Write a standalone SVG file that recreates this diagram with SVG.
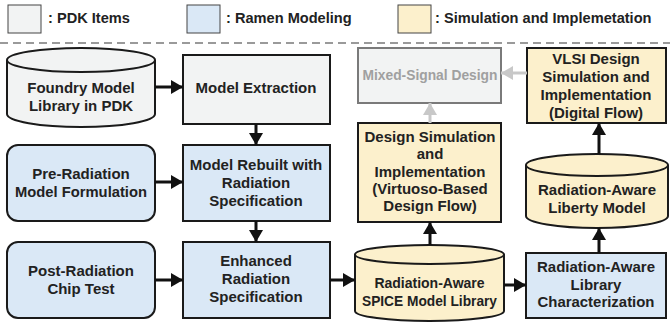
<svg xmlns="http://www.w3.org/2000/svg" width="670" height="323" viewBox="0 0 670 323">
<defs>
<style>
text{font-family:"Liberation Sans",Arial,sans-serif;font-weight:bold;font-size:15px;fill:#222;text-anchor:middle}
.lg{text-anchor:start;font-size:14.6px}
.sm{font-size:14px}
.gray{fill:#f2f3f3;stroke:#1a1a1a;stroke-width:2}
.blue{fill:#dae8f6;stroke:#1a1a1a;stroke-width:2}
.yel{fill:#fcf0cc;stroke:#1a1a1a;stroke-width:2}
.legbox{stroke:#444;stroke-width:1}
.c{fill:none;stroke:#111;stroke-width:3}
.cg{fill:none;stroke:#c8c8c8;stroke-width:3}
.dim{fill:#a0a0a0}
</style>
<marker id="ah" markerUnits="userSpaceOnUse" markerWidth="12" markerHeight="14" refX="12" refY="7" orient="auto"><path d="M0,0 L12,7 L0,14 Z" fill="#111"/></marker>
<marker id="ahg" markerUnits="userSpaceOnUse" markerWidth="12" markerHeight="14" refX="12" refY="7" orient="auto"><path d="M0,0 L12,7 L0,14 Z" fill="#c8c8c8"/></marker>
</defs>
<rect width="670" height="323" fill="#fff"/>
<g id="legend">
<rect class="legbox" x="8" y="5" width="33" height="28" fill="#f2f3f3"/>
<text class="lg" x="48" y="23">: PDK Items</text>
<rect class="legbox" x="187" y="5" width="33" height="28" fill="#dae8f6"/>
<text class="lg" x="226" y="23">: Ramen Modeling</text>
<rect class="legbox" x="398" y="5" width="33" height="28" fill="#fcf0cc"/>
<text class="lg" x="435" y="23">: Simulation and Implemetation</text>
<line x1="0" y1="43" x2="670" y2="43" stroke="#9a9a9a" stroke-width="2" stroke-dasharray="8,5"/>
</g>
<g id="foundry">
<path class="gray" d="M7,60 A74,12 0 0 1 155,60 L155,114 A74,13 0 0 1 7,114 Z"/>
<path d="M7,60 A74,12 0 0 0 155,60" fill="none" stroke="#1a1a1a" stroke-width="2"/>
<text x="81" y="93">Foundry Model</text>
<text x="81" y="111">Library in PDK</text>
</g>
<g id="extraction">
<rect class="gray" x="183" y="55" width="147" height="69"/>
<text x="256" y="93">Model Extraction</text>
</g>
<g id="prerad">
<rect class="blue" x="7" y="145" width="148" height="76" rx="11"/>
<text x="81" y="179">Pre-Radiation</text>
<text x="81" y="197" textLength="132" lengthAdjust="spacingAndGlyphs">Model Formulation</text>
</g>
<g id="rebuilt">
<rect class="blue" x="183" y="145" width="147" height="76"/>
<text x="256" y="170">Model Rebuilt with</text>
<text x="256" y="188">Radiation</text>
<text x="256" y="206">Specification</text>
</g>
<g id="postrad">
<rect class="blue" x="7" y="242" width="148" height="76" rx="11"/>
<text x="81" y="276">Post-Radiation</text>
<text x="81" y="294">Chip Test</text>
</g>
<g id="enhanced">
<rect class="blue" x="183" y="242" width="147" height="76"/>
<text x="256" y="266">Enhanced</text>
<text x="256" y="284">Radiation</text>
<text x="256" y="302">Specification</text>
</g>
<g id="mixed">
<rect x="358" y="48" width="143" height="55" fill="#f2f3f3" stroke="#7a7a7a" stroke-width="2"/>
<text class="dim" x="430" y="80" textLength="135" lengthAdjust="spacingAndGlyphs">Mixed-Signal Design</text>
</g>
<g id="vlsi">
<rect class="yel" x="527" y="48" width="139" height="75"/>
<text x="596" y="64">VLSI Design</text>
<text x="596" y="82">Simulation and</text>
<text x="596" y="100">Implementation</text>
<text x="596" y="118">(Digital Flow)</text>
</g>
<g id="designsim">
<rect class="yel" x="358" y="123" width="143" height="99"/>
<text x="430" y="142" textLength="131" lengthAdjust="spacingAndGlyphs">Design Simulation</text>
<text x="430" y="159.3">and</text>
<text x="430" y="176.6">Implementation</text>
<text x="430" y="193.9">(Virtuoso-Based</text>
<text x="430" y="211.2">Design Flow)</text>
</g>
<g id="liberty">
<path class="yel" d="M526,165 A71,11 0 0 1 668,165 L668,216 A71,12 0 0 1 526,216 Z"/>
<path d="M526,165 A71,11 0 0 0 668,165" fill="none" stroke="#1a1a1a" stroke-width="2"/>
<text x="597" y="195">Radiation-Aware</text>
<text x="597" y="213">Liberty Model</text>
</g>
<g id="spice">
<path class="yel" d="M355,254.5 A74.5,9.5 0 0 1 504,254.5 L504,311 A74.5,10 0 0 1 355,311 Z"/>
<path d="M355,254.5 A74.5,9.5 0 0 0 504,254.5" fill="none" stroke="#1a1a1a" stroke-width="2"/>
<text class="sm" x="429.5" y="288">Radiation-Aware</text>
<text class="sm" x="429.5" y="306" textLength="135" lengthAdjust="spacingAndGlyphs">SPICE Model Library</text>
</g>
<g id="libchar">
<rect class="blue" x="526" y="253" width="140" height="65"/>
<text x="596" y="272">Radiation-Aware</text>
<text x="596" y="290">Library</text>
<text x="596" y="307" textLength="117" lengthAdjust="spacingAndGlyphs">Characterization</text>
</g>
<g id="connectors">
<line class="c" x1="155" y1="87" x2="183" y2="87" marker-end="url(#ah)"/>
<line class="c" x1="256" y1="124" x2="256" y2="145" marker-end="url(#ah)"/>
<line class="c" x1="155" y1="182" x2="183" y2="182" marker-end="url(#ah)"/>
<line class="c" x1="256" y1="221" x2="256" y2="242" marker-end="url(#ah)"/>
<line class="c" x1="155" y1="280" x2="183" y2="280" marker-end="url(#ah)"/>
<line class="c" x1="330" y1="280" x2="355" y2="280" marker-end="url(#ah)"/>
<line class="c" x1="504" y1="285" x2="526" y2="285" marker-end="url(#ah)"/>
<line class="c" x1="430" y1="245" x2="430" y2="222" marker-end="url(#ah)"/>
<line class="c" x1="599" y1="253" x2="599" y2="228" marker-end="url(#ah)"/>
<line class="c" x1="599" y1="154" x2="599" y2="123" marker-end="url(#ah)"/>
<line class="cg" x1="430" y1="123" x2="430" y2="103" marker-end="url(#ahg)"/>
<line class="cg" x1="527" y1="73" x2="501" y2="73" marker-end="url(#ahg)"/>
</g>
</svg>
